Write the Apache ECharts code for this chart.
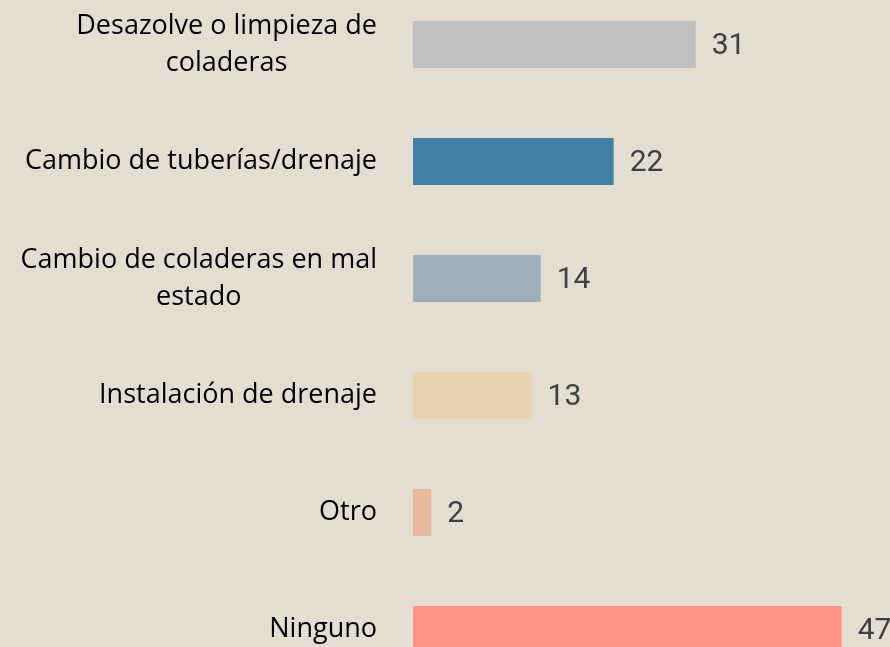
<!DOCTYPE html>
<html>
<head>
<meta charset="utf-8">
<script src="https://cdn.jsdelivr.net/npm/echarts@6/dist/echarts.min.js"></script>
<style>
  html, body { margin: 0; padding: 0; background: #E3DDD2; }
  #chart { width: 890px; height: 647px; }
</style>
</head>
<body>
<div id="chart"></div>
<script>
let categories = [
    'Desazolve o limpieza de\ncoladeras',
    'Cambio de tuberías/drenaje',
    'Cambio de coladeras en mal\nestado',
    'Instalación de drenaje',
    'Otro',
    'Ninguno'
];
let values = [31, 22, 14, 13, 2, 47];
let colors = ['#BFBFBF', '#4180A4', '#9DAFB7', '#E9D2AE', '#E8B99C', '#FF938A'];

let chart = echarts.init(document.getElementById('chart'));

// each text line is its own rich token so it is centred inside the block
function wrapLabel(text) {
    return text.split('\n').map(l => '{c|' + l + '}').join('\n');
}

let option = {
    backgroundColor: '#E3DDD2',
    animation: false,
    grid: {
        left: 413,
        top: -14,
        width: 456,
        height: 702,
        outerBoundsMode: 'none',
        containLabel: false
    },
    xAxis: {
        type: 'value',
        min: 0,
        max: 50,
        show: false
    },
    yAxis: {
        type: 'category',
        inverse: true,
        data: categories,
        axisLine: { show: false },
        axisTick: { show: false },
        splitLine: { show: false },
        axisLabel: {
            margin: 36,
            formatter: wrapLabel,
            rich: {
                c: {
                    align: 'center',
                    fontFamily: 'Open Sans',
                    fontSize: 27,
                    lineHeight: 37,
                    color: '#000000'
                }
            }
        }
    },
    series: [
        {
            type: 'bar',
            barWidth: 47,
            data: values.map((v, i) => ({ value: v, itemStyle: { color: colors[i] } })),
            label: {
                show: true,
                position: 'right',
                distance: 16,
                offset: [0, 2],
                fontFamily: 'Roboto',
                fontSize: 30,
                color: '#404040'
            }
        }
    ]
};
chart.setOption(option);
</script>
</body>
</html>
